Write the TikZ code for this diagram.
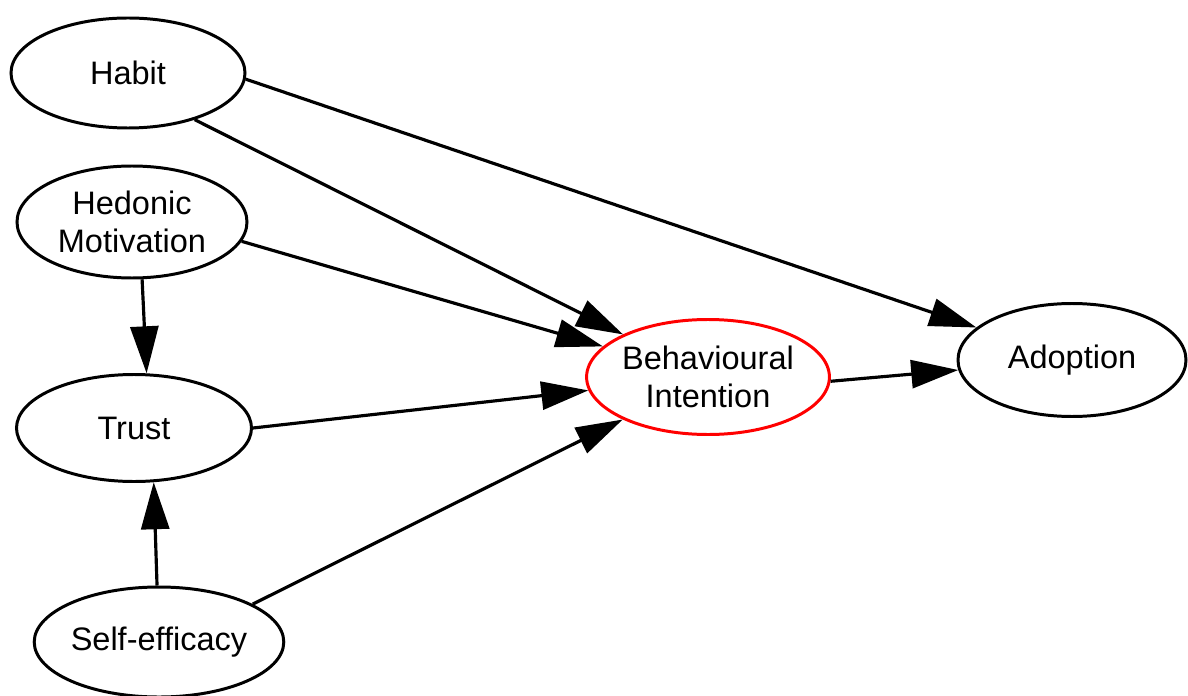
\documentclass[tikz,border=0pt]{standalone}
\usepackage{fontspec}
\setmainfont{Liberation Sans}
\usetikzlibrary{shapes, arrows.meta}

\begin{document}
\begin{tikzpicture}[
        construct/.style={ellipse, draw, line width=1.7pt, inner sep=0pt, align=center, font=\fontsize{18.5}{22}\selectfont},
        path/.style={line width=1.8pt, -{Triangle[length=0.94cm, width=0.56cm]}}
    ]
        \useasboundingbox (0, 0) rectangle (23.76, -13.92);

        \node[construct, minimum width=4.68cm, minimum height=2.2cm] (habit) at (2.56, -1.46) {Habit};
        \node[construct, minimum width=4.6cm, minimum height=2.24cm] (hedonic) at (2.64, -4.44) {Hedonic\\Motivation};
        \node[construct, minimum width=4.7cm, minimum height=2.14cm] (trust) at (2.68, -8.56) {Trust};
        \node[construct, minimum width=4.62cm, minimum height=2.2cm] (selfeff) at (3.18, -12.84) {Self-efficacy};
        \node[construct, draw=red, minimum width=4.68cm, minimum height=2.3cm] (intention) at (14.16, -7.54) {Behavioural\\Intention};
        \node[construct, minimum width=4.56cm, minimum height=2.26cm] (adoption) at (21.44, -7.2) {Adoption};

        \draw[path] (habit.-3) to (adoption);
        \draw[path] (habit.-35) to (intention);
        \draw[path] (hedonic.-10) to (intention);
        \draw[path] (hedonic.-80) to (trust.77);
        \draw[path] (trust.0) to (intention);
        \draw[path] (selfeff.92) to (trust.-70);
        \draw[path] (selfeff.22) to (intention);
        \draw[path] (intention.-2) to (adoption);
    \end{tikzpicture}
\end{document}
